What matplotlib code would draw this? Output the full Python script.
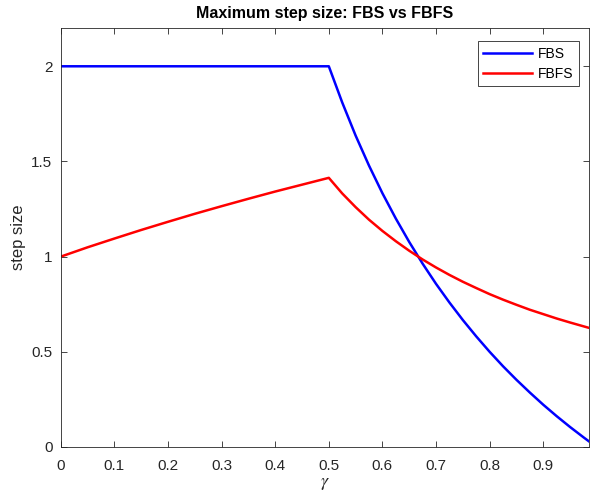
import matplotlib
matplotlib.use("Agg")
import matplotlib.pyplot as plt

plt.rcParams['font.family'] = ['Liberation Sans', 'DejaVu Sans']
plt.rcParams['mathtext.fontset'] = 'stix'

# step size vs gamma
gamma = [0.0, 0.05, 0.1, 0.15, 0.2, 0.25, 0.3, 0.35, 0.4, 0.45, 0.5,
         0.525, 0.55, 0.575, 0.6, 0.625, 0.65, 0.675, 0.7, 0.725, 0.75,
         0.775, 0.8, 0.825, 0.85, 0.875, 0.9, 0.925, 0.95, 0.975, 0.985]
fbs = [2.0, 2.0, 2.0, 2.0, 2.0, 2.0, 2.0, 2.0, 2.0, 2.0, 2.0,
       1.810, 1.636, 1.478, 1.333, 1.200, 1.077, 0.963, 0.857, 0.759, 0.667,
       0.581, 0.500, 0.424, 0.353, 0.286, 0.222, 0.162, 0.105, 0.051, 0.030]
fbfs = [1.0, 1.049, 1.095, 1.140, 1.183, 1.225, 1.265, 1.304, 1.342, 1.378, 1.414,
        1.332, 1.260, 1.194, 1.135, 1.081, 1.031, 0.985, 0.943, 0.904, 0.868,
        0.835, 0.803, 0.774, 0.747, 0.721, 0.698, 0.675, 0.654, 0.634, 0.626]

x_ticks = [0, 0.1, 0.2, 0.3, 0.4, 0.5, 0.6, 0.7, 0.8, 0.9]
x_tick_labs = ["0", "0.1", "0.2", "0.3", "0.4", "0.5", "0.6", "0.7", "0.8", "0.9"]
y_ticks = [0, 0.5, 1, 1.5, 2]
y_tick_labs = ["0", "0.5", "1", "1.5", "2"]

axis_col = "#262626"

fig = plt.figure(figsize=(5.9, 4.95), dpi=100)
ax = fig.add_axes([0.103, 0.097, 0.895, 0.846])

ax.plot(gamma, fbs, color="#0000ff", lw=1.8, label="FBS")
ax.plot(gamma, fbfs, color="#ff0000", lw=1.8, label="FBFS")

ax.set_xlim(0, 0.985)
ax.set_ylim(0, 2.2)
ax.set_xticks(x_ticks)
ax.set_xticklabels(x_tick_labs)
ax.set_yticks(y_ticks)
ax.set_yticklabels(y_tick_labs)

ax.tick_params(axis='both', which='both', direction='in', length=4, width=0.6,
               top=True, right=True, labelsize=11, colors=axis_col, pad=6)
ax.tick_params(axis='x', pad=9)
for sp in ax.spines.values():
    sp.set_color(axis_col)
    sp.set_linewidth(0.6)

ax.set_xlabel(r"$\gamma$", fontsize=13, color=axis_col, labelpad=1)
ax.set_ylabel("step size", fontsize=12, color=axis_col, labelpad=4)
ax.set_title("Maximum step size: FBS vs FBFS", fontsize=11.5, fontweight='bold',
             color="#000000", pad=7)

leg = ax.legend(loc="upper right", bbox_to_anchor=(579 / 590., 1 - 41 / 495.),
                bbox_transform=fig.transFigure, borderaxespad=0,
                fontsize=10, handlelength=3.5, fancybox=False,
                framealpha=1, edgecolor=axis_col,
                labelspacing=0.45, borderpad=0.4, handletextpad=0.45)
leg.get_frame().set_linewidth(0.6)

fig.savefig("out.png", dpi=100)
